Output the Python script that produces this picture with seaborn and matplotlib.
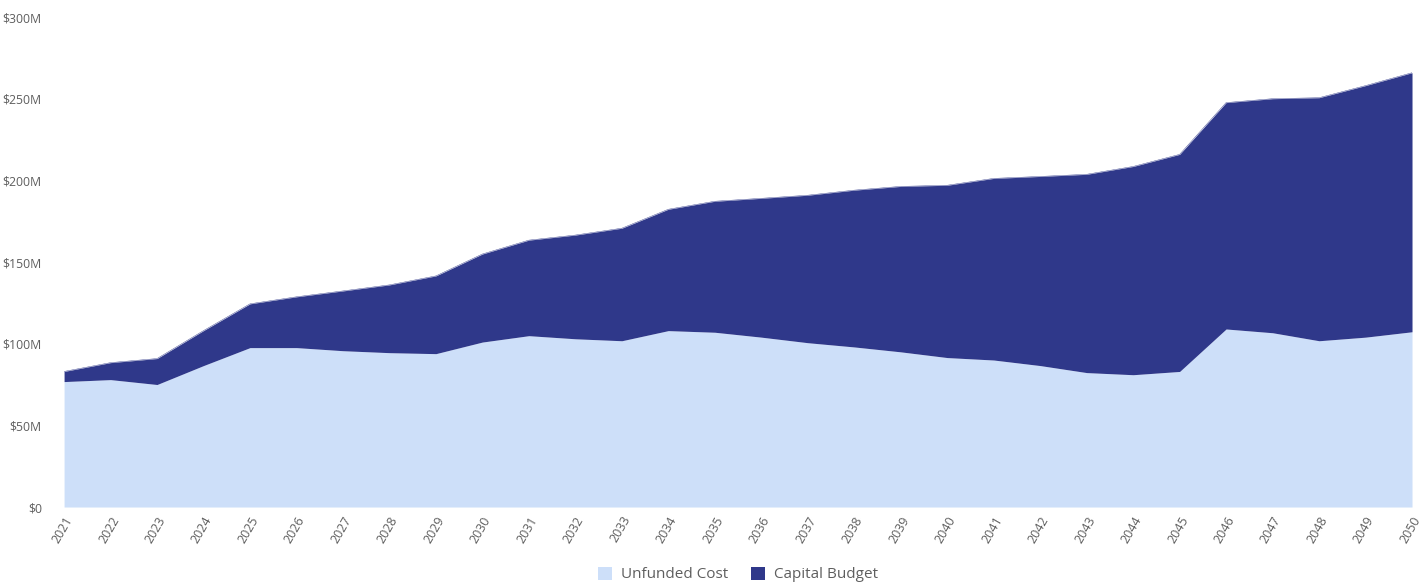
import numpy as np
import pandas as pd
import matplotlib
matplotlib.use("Agg")
import matplotlib.pyplot as plt
from matplotlib.patches import Patch
from matplotlib.ticker import FuncFormatter, MultipleLocator
import seaborn as sns

years = list(range(2021, 2051))
unfunded_cost = [76.8, 78.0, 75.0, 86.6, 97.6, 97.6, 95.7, 94.5, 93.9, 101.0,
                 104.9, 103.0, 101.8, 108.0, 107.0, 104.0, 100.6, 98.0, 95.0, 91.5,
                 90.0, 86.6, 82.3, 81.0, 83.0, 109.0, 106.7, 101.8, 104.0, 107.3]
capital_budget = [6.2, 10.4, 15.9, 21.4, 26.8, 31.1, 36.6, 41.5, 47.6, 53.9,
                  58.5, 63.5, 68.9, 74.3, 80.2, 85.0, 90.3, 96.0, 101.3, 105.5,
                  111.2, 115.8, 121.4, 127.5, 132.9, 138.6, 143.3, 148.8, 154.0, 158.6]
series_names = ["Unfunded Cost", "Capital Budget"]
series_colors = ["#cddff9", "#2f388a"]

df = pd.DataFrame({"year": years,
                   "Unfunded Cost": unfunded_cost,
                   "Capital Budget": capital_budget})
df["total"] = df["Unfunded Cost"] + df["Capital Budget"]

sns.set_theme(style="white")
plt.rcParams["font.family"] = ["Open Sans", "DejaVu Sans"]

fig = plt.figure(figsize=(14.27, 5.85), dpi=100)
ax = fig.add_axes([0.0449, 0.1333, 0.9446, 0.8376])

ax.fill_between(df["year"], 0, df["Unfunded Cost"], color=series_colors[0], lw=0)
ax.fill_between(df["year"], df["Unfunded Cost"], df["total"], color=series_colors[1], lw=0)
# thin outline along the stacked total to keep the edge crisp
sns.lineplot(data=df, x="year", y="total", ax=ax, color=series_colors[1], lw=0.3)

ax.set_xlim(years[0], years[-1])
ax.set_ylim(0, 300)
ax.yaxis.set_major_locator(MultipleLocator(50))
ax.yaxis.set_major_formatter(FuncFormatter(lambda v, p: "$0" if v == 0 else f"${int(v)}M"))
ax.set_xticks(years)
ax.set_xticklabels([str(y) for y in years], rotation=60, ha="right", va="top",
                   rotation_mode="anchor")
ax.tick_params(axis="x", length=0, pad=5, labelsize=9, labelcolor="#5e5e5e")
ax.tick_params(axis="y", length=0, pad=16, labelsize=8.8, labelcolor="#5e5e5e")
ax.set_xlabel("")
ax.set_ylabel("")
for s in ax.spines.values():
    s.set_visible(False)
ax.grid(False)

handles = [Patch(facecolor=c, edgecolor="none", label=n) for n, c in zip(series_names, series_colors)]
ax.legend(handles=handles, loc="lower center", bbox_to_anchor=(0.5, -0.182), ncol=2,
          frameon=False, fontsize=11, handlelength=0.9, handleheight=0.9,
          handletextpad=0.6, columnspacing=1.5, labelcolor="#5e5e5e")

fig.savefig("out.png", dpi=100)
